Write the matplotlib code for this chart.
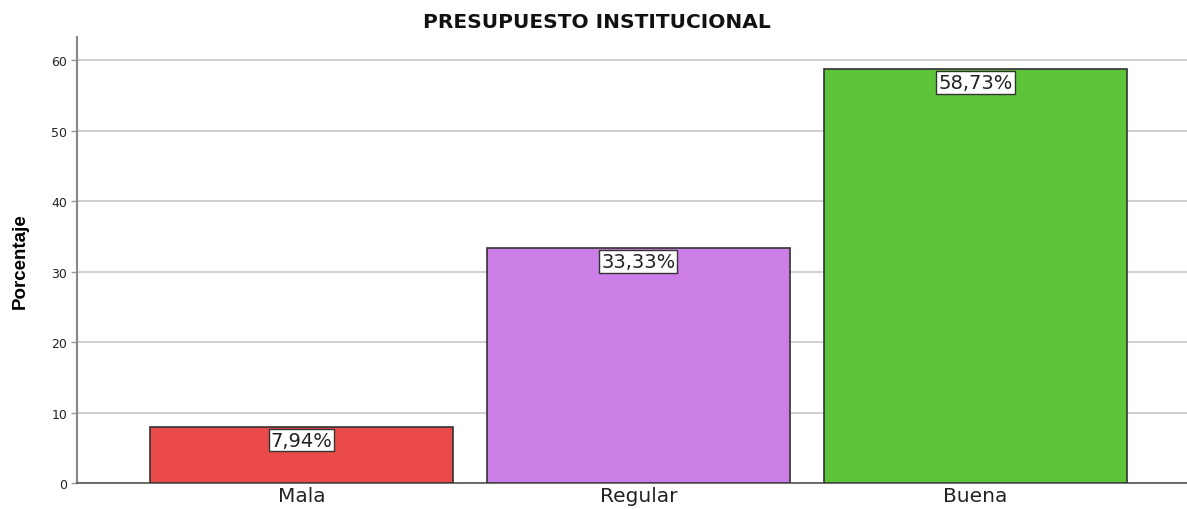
import matplotlib
matplotlib.use("Agg")
import matplotlib.pyplot as plt

categories = ["Mala", "Regular", "Buena"]
values = [7.94, 33.33, 58.73]
labels = ["7,94%", "33,33%", "58,73%"]
colors = ["#EB4A4A", "#CB7EE5", "#5EC43A"]
yticks = [0, 10, 20, 30, 40, 50, 60]

plt.rcParams['font.family'] = ['DejaVu Sans']

fig = plt.figure(figsize=(11.87, 5.10), dpi=100)
ax = fig.add_axes([77/1187, 1-484/510, 1-77/1187, (484-38)/510])

x = list(range(len(categories)))
ax.bar(x, values, width=0.9, color=colors, edgecolor="#333333", linewidth=1.2, zorder=3)
ax.set_xlim(-0.666, 2.628)
ax.set_ylim(0, 63.3)
ax.set_yticks(yticks)
ax.set_yticklabels([str(t) for t in yticks], fontsize=9, color="#222222")
ax.set_xticks(x)
ax.set_xticklabels(categories, fontsize=14.5, color="#222222")
ax.tick_params(axis='y', length=4, width=1, color="#999999", pad=3)
ax.tick_params(axis='x', length=0, pad=2)
ax.grid(axis='y', color="#C8C8C8", linewidth=1.2, zorder=0)
for s in ["top", "right"]:
    ax.spines[s].set_visible(False)
ax.spines["left"].set_color("#888888")
ax.spines["left"].set_linewidth(1.5)
ax.spines["bottom"].set_color("#555555")
ax.spines["bottom"].set_linewidth(1.2)

for xi, v, lab in zip(x, values, labels):
    ax.annotate(lab, (xi, v), xytext=(0, -2.5), textcoords="offset points",
                ha="center", va="top", fontsize=14, color="#222222", zorder=5,
                bbox=dict(boxstyle="square,pad=0.1", fc="white", ec="#333333", lw=1))

ax.set_ylabel("Porcentaje", fontsize=13.5, fontweight="bold",
              family=['Liberation Sans', 'DejaVu Sans'])
ax.yaxis.set_label_coords((29-77)/1110, 0.5)
fig.text(597/1187, 1-23/510, "PRESUPUESTO INSTITUCIONAL", ha="center", va="center",
         fontsize=14.5, fontweight="bold", color="#111111")

fig.savefig("out.png", dpi=100)
